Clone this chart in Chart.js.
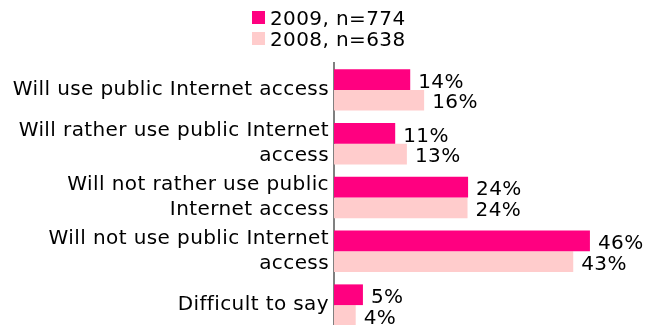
<!DOCTYPE html>
<html>
<head>
<meta charset="utf-8">
<script src="https://cdn.jsdelivr.net/npm/chart.js@4"></script>
<style>
  html, body { margin: 0; padding: 0; background: #fff; overflow: hidden; }
  #wrap { position: relative; width: 663px; height: 333px; }
  #legend {
    position: absolute; left: 252px; top: 7px;
    font-family: "DejaVu Sans", sans-serif; font-size: 20px; letter-spacing: 0.4px; color: #000;
  }
  .item { display: flex; align-items: center; height: 21px; }
  .box { width: 13px; height: 13px; margin-right: 5px; }
</style>
</head>
<body>
<div id="wrap">
  <div id="legend"></div>
  <canvas id="chart" width="663" height="333"></canvas>
</div>
<script>
// categories and series (percent)
const categories = [
  ["Will use public Internet access"],
  ["Will rather use public Internet", "access"],
  ["Will not rather use public", "Internet access"],
  ["Will not use public Internet", "access"],
  ["Difficult to say"],
];
const seriesNames = ["2009, n=774", "2008, n=638"];
const values2009 = [13.7, 11.0, 24.1, 46.0, 5.2];
const values2008 = [16.2, 13.1, 24.0, 43.0, 3.9];
const colors = ["#ff0080", "#ffcccc"];

// html legend, two rows
const legendEl = document.getElementById("legend");
seriesNames.forEach((name, i) => {
  const row = document.createElement("div");
  row.className = "item";
  const box = document.createElement("span");
  box.className = "box";
  box.style.background = colors[i];
  const txt = document.createElement("span");
  txt.textContent = name;
  row.appendChild(box);
  row.appendChild(txt);
  legendEl.appendChild(row);
});

// slightly looser text, closer to the original Verdana look
const spacing = {
  id: "spacing",
  beforeUpdate(chart) { chart.ctx.letterSpacing = "0.4px"; },
  beforeDraw(chart) { chart.ctx.letterSpacing = "0.4px"; },
};

// value labels at end of each bar
const valueLabels = {
  id: "valueLabels",
  afterDatasetsDraw(chart) {
    const ctx = chart.ctx;
    ctx.save();
    ctx.font = "20px 'DejaVu Sans'";
    ctx.fillStyle = "#000";
    ctx.textAlign = "left";
    ctx.textBaseline = "middle";
    chart.data.datasets.forEach((ds, di) => {
      chart.getDatasetMeta(di).data.forEach((bar, i) => {
        ctx.fillText(Math.round(ds.data[i]) + "%", bar.x + 8, bar.y + 3);
      });
    });
    ctx.restore();
  },
};

new Chart(document.getElementById("chart"), {
  type: "bar",
  data: {
    labels: categories,
    datasets: [
      { label: seriesNames[0], data: values2009, backgroundColor: colors[0] },
      { label: seriesNames[1], data: values2008, backgroundColor: colors[1] },
    ],
  },
  options: {
    indexAxis: "y",
    responsive: false,
    devicePixelRatio: 1,
    animation: false,
    categoryPercentage: 0.77,
    barPercentage: 1.0,
    layout: { padding: { top: 63, bottom: 1, left: 0, right: 23 } },
    scales: {
      x: { display: false, min: 0, max: 55 },
      y: {
        grid: { display: false, drawTicks: false },
        border: { display: true, color: "#808080", width: 2 },
        ticks: {
          color: "#000",
          padding: 5,
          font: { family: "DejaVu Sans", size: 20, lineHeight: 25 / 20 },
        },
        afterFit(scale) {
          scale.width = 334;
          scale.paddingTop = 0;
          scale.paddingBottom = 0;
        },
      },
    },
    plugins: {
      legend: { display: false },
      tooltip: { enabled: false },
    },
  },
  plugins: [spacing, valueLabels],
});
</script>
</body>
</html>
